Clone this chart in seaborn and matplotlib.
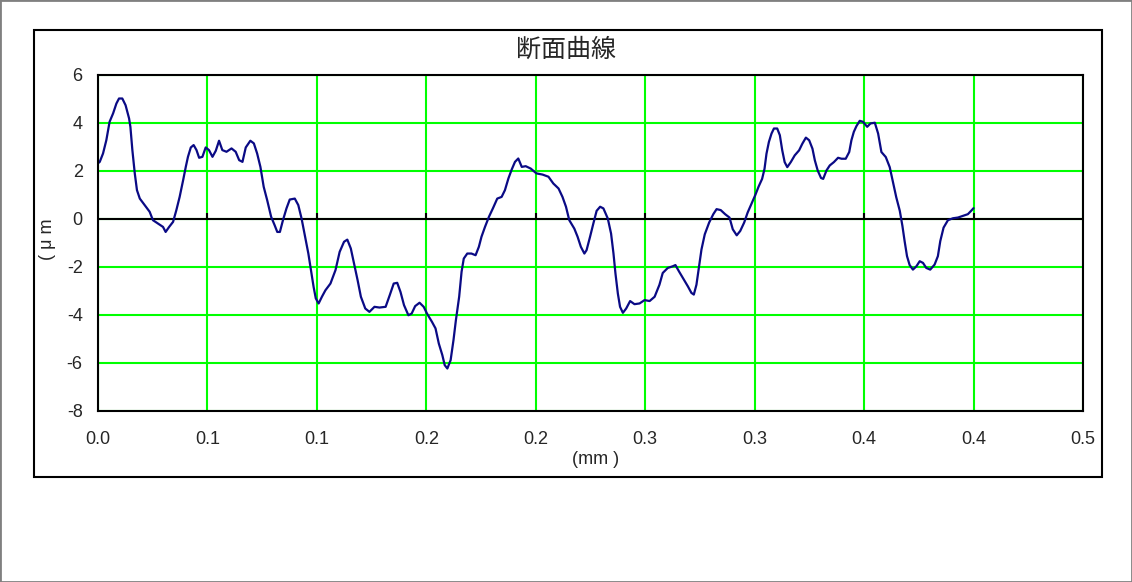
import matplotlib
matplotlib.use('Agg')
import pandas as pd
import seaborn as sns
import matplotlib.pyplot as plt
from matplotlib.patches import Rectangle

# profile data (x in mm, height in um)
x_mm = [
    0.0000, 0.0008, 0.0023, 0.0038, 0.0053, 0.0069, 0.0084, 0.0096, 0.0111, 0.0126,
    0.0142, 0.0148, 0.0157, 0.0168, 0.0178, 0.0191, 0.0213, 0.0236, 0.0251, 0.0274,
    0.0297, 0.0309, 0.0325, 0.0343, 0.0358, 0.0373, 0.0389, 0.0401, 0.0411, 0.0424,
    0.0437, 0.0450, 0.0462, 0.0477, 0.0492, 0.0507, 0.0523, 0.0538, 0.0553, 0.0568,
    0.0587, 0.0610, 0.0629, 0.0645, 0.0660, 0.0675, 0.0696, 0.0712, 0.0727, 0.0742,
    0.0757, 0.0773,
    0.0791, 0.0807, 0.0819, 0.0831, 0.0845, 0.0861, 0.0876, 0.0899, 0.0915, 0.0930,
    0.0946, 0.0961, 0.0974, 0.0985, 0.0995, 0.1008, 0.1023, 0.1039, 0.1062, 0.1085,
    0.1104, 0.1124, 0.1139, 0.1155, 0.1170, 0.1186, 0.1201, 0.1221, 0.1240, 0.1263,
    0.1286, 0.1314, 0.1333, 0.1351, 0.1367, 0.1382, 0.1398, 0.1418, 0.1433, 0.1449,
    0.1469, 0.1488, 0.1503, 0.1526, 0.1542, 0.1557, 0.1573, 0.1584, 0.1596, 0.1611,
    0.1624, 0.1635, 0.1650,
    0.1661, 0.1671, 0.1687, 0.1706, 0.1725, 0.1740, 0.1752, 0.1768, 0.1786, 0.1804,
    0.1824, 0.1844, 0.1859, 0.1875, 0.1890, 0.1905, 0.1920, 0.1936, 0.1954, 0.1977,
    0.2003, 0.2031, 0.2058, 0.2080, 0.2104, 0.2122, 0.2138, 0.2153, 0.2176, 0.2191,
    0.2206, 0.2222, 0.2232, 0.2248, 0.2263, 0.2278, 0.2294, 0.2309, 0.2329, 0.2344,
    0.2355, 0.2364, 0.2375, 0.2385, 0.2398, 0.2413, 0.2431, 0.2451, 0.2474, 0.2497,
    0.2520, 0.2543,
    0.2565, 0.2580, 0.2603, 0.2626, 0.2638, 0.2654, 0.2672, 0.2695, 0.2711, 0.2722,
    0.2734, 0.2746, 0.2757, 0.2772, 0.2792, 0.2811, 0.2826, 0.2845, 0.2865, 0.2885,
    0.2900, 0.2918, 0.2934, 0.2952, 0.2968, 0.2988, 0.3003, 0.3018, 0.3034, 0.3045,
    0.3054, 0.3065, 0.3077, 0.3088, 0.3103, 0.3115, 0.3126, 0.3137, 0.3149, 0.3165,
    0.3183, 0.3203, 0.3218, 0.3234, 0.3249, 0.3264, 0.3275, 0.3288, 0.3303,
    0.3313, 0.3328, 0.3343, 0.3362, 0.3381, 0.3397, 0.3416, 0.3432, 0.3442, 0.3453,
    0.3465, 0.3480, 0.3495, 0.3514, 0.3529, 0.3549, 0.3564, 0.3579, 0.3599, 0.3617,
    0.3632, 0.3647, 0.3663, 0.3675, 0.3685, 0.3696, 0.3708, 0.3723, 0.3739, 0.3754,
    0.3769, 0.3784, 0.3802, 0.3822, 0.3837, 0.3848, 0.3863, 0.3883, 0.3906, 0.3929,
    0.3951, 0.3974, 0.3989, 0.4000,
]
height_um = [
    2.30, 2.36, 2.71, 3.26, 4.03, 4.38, 4.79, 5.00, 5.00, 4.72,
    4.17, 3.82, 2.85, 1.88, 1.18, 0.83, 0.56, 0.28, -0.07, -0.21,
    -0.35, -0.56, -0.35, -0.14, 0.35, 0.90, 1.60, 2.15, 2.57, 2.96,
    3.06, 2.85, 2.53, 2.57, 2.96, 2.85, 2.57, 2.82, 3.24, 2.85,
    2.78, 2.92, 2.78, 2.43, 2.36, 2.96, 3.24, 3.13, 2.71, 2.15,
    1.32, 0.76,
    0.07, -0.28, -0.56, -0.56, -0.07, 0.42, 0.79, 0.83, 0.56, 0.00,
    -0.76, -1.46, -2.22, -2.85, -3.33, -3.54, -3.26, -2.99, -2.71, -2.15,
    -1.39, -0.97, -0.88, -1.25, -1.88, -2.57, -3.26, -3.75, -3.89, -3.68,
    -3.71, -3.68, -3.19, -2.71, -2.68, -3.06, -3.61, -4.03, -3.96, -3.65,
    -3.51, -3.68, -3.96, -4.31, -4.58, -5.21, -5.69, -6.11, -6.25, -5.90,
    -5.07, -4.24, -3.26,
    -2.22, -1.67, -1.46, -1.46, -1.53, -1.18, -0.76, -0.35, 0.07, 0.42,
    0.83, 0.90, 1.18, 1.67, 2.04, 2.36, 2.50, 2.15, 2.18, 2.08,
    1.88, 1.83, 1.74, 1.46, 1.25, 0.90, 0.49, -0.07, -0.42, -0.76,
    -1.18, -1.46, -1.32, -0.76, -0.21, 0.32, 0.49, 0.42, 0.00, -0.63,
    -1.46, -2.29, -3.13, -3.68, -3.93, -3.75, -3.44, -3.57, -3.54, -3.40,
    -3.44, -3.26,
    -2.76, -2.27, -2.06, -1.99, -1.94, -2.20, -2.48, -2.83, -3.10, -3.17,
    -2.76, -1.99, -1.29, -0.66, -0.17, 0.18, 0.39, 0.35, 0.18, 0.04,
    -0.45, -0.70, -0.52, -0.17, 0.25, 0.67, 0.98, 1.33, 1.65, 2.07,
    2.70, 3.19, 3.54, 3.75, 3.75, 3.47, 2.84, 2.35, 2.14, 2.35,
    2.63, 2.84, 3.12, 3.37, 3.26, 2.91, 2.42, 2.00, 1.69,
    1.65, 2.00, 2.21, 2.35, 2.53, 2.49, 2.49, 2.77, 3.26, 3.61,
    3.85, 4.07, 4.03, 3.82, 3.96, 3.99, 3.54, 2.77, 2.56, 2.14,
    1.51, 0.88, 0.32, -0.31, -0.94, -1.57, -1.94, -2.13, -1.99, -1.78,
    -1.85, -2.06, -2.13, -1.92, -1.57, -0.94, -0.38, -0.07, 0.01, 0.04,
    0.11, 0.18, 0.32, 0.43,
]

x_ticks = [0.0, 0.05, 0.10, 0.15, 0.20, 0.25, 0.30, 0.35, 0.40, 0.45]
x_ticklabels = ['0.0', '0.1', '0.1', '0.2', '0.2', '0.3', '0.3', '0.4', '0.4', '0.5']
y_ticks = [-8, -6, -4, -2, 0, 2, 4, 6]
y_ticklabels = ['-8', '-6', '-4', '-2', '0', '2', '4', '6']

title = '断面曲線'
x_label = '(mm )'
y_label = '( μ m'

df = pd.DataFrame({'x': x_mm, 'y': height_um})

sns.set_style('white')
plt.rcParams['font.family'] = ['Liberation Sans', 'Noto Sans CJK JP', 'DejaVu Sans']
plt.rcParams['axes.unicode_minus'] = False

W, H = 1132, 582
fig = plt.figure(figsize=(W / 100, H / 100), dpi=100)
ax = fig.add_axes([98 / W, 1 - 410.5 / H, 985 / W, 336 / H])

# grid first, then zero line, then the profile
for xt in x_ticks:
    ax.axvline(xt, color='#00FF00', linewidth=1.5, zorder=1)
for yt in y_ticks:
    ax.axhline(yt, color='#00FF00', linewidth=1.5, zorder=1)
ax.axhline(0, color='black', linewidth=1.5, zorder=2)
# short tick marks on the zero line (the x axis crosses at 0 in the original)
ax.vlines(x_ticks[1:-1], 0, 0.22, color='black', linewidth=1.5, zorder=2)

sns.lineplot(data=df, x='x', y='y', ax=ax, color='#0A0A85', linewidth=1.6,
             estimator=None, sort=False, zorder=3)

ax.set_xlim(0, 0.45)
ax.set_ylim(-8, 6)
ax.set_xticks(x_ticks)
ax.set_xticklabels(x_ticklabels)
ax.set_yticks(y_ticks)
ax.set_yticklabels(y_ticklabels)
ax.tick_params(axis='x', length=0, pad=15, labelsize=13)
ax.tick_params(axis='y', length=0, pad=11, labelsize=13)
ax.set_xlabel('')
ax.set_ylabel('')
for s in ax.spines.values():
    s.set_color('black')
    s.set_linewidth(1.5)
    s.set_zorder(4)

fig.text(566 / W, 1 - 50 / H, title, ha='center', va='center', fontsize=18,
         family=['Noto Sans CJK JP', 'DejaVu Sans'])
fig.text(596 / W, 1 - 459 / H, x_label, ha='center', va='center', fontsize=13)
fig.text(48 / W, 1 - 239 / H, y_label, ha='center', va='center', fontsize=13,
         rotation=90)

# chart area frame and outer border
fig.patches.append(Rectangle((34 / W, 1 - 477 / H), 1068 / W, 447 / H,
                             transform=fig.transFigure, fill=False,
                             edgecolor='black', linewidth=1.5))
fig.patches.append(Rectangle((0, 0), 1, 1, transform=fig.transFigure, fill=False,
                             edgecolor='#808080', linewidth=2))

plt.savefig('out.png', dpi=100)
